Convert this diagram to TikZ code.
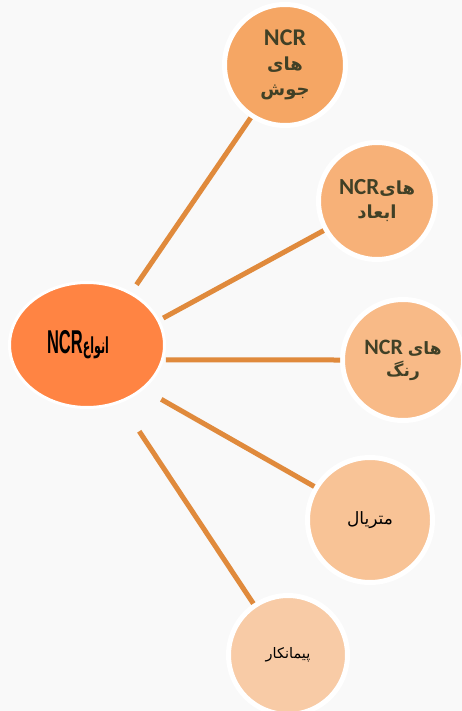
\documentclass[tikz,border=0pt]{standalone}
\usepackage{fontspec}
\setmainfont{Carlito}
\newfontfamily\arabicfont[Script=Arabic]{DejaVu Sans}
\newfontfamily\narrowfont{Liberation Sans}
\usetikzlibrary{shapes.geometric}
\TeXXeTstate=1
\definecolor{bgc}{RGB}{249,249,249}
\definecolor{cfill}{RGB}{255,132,67}
\definecolor{fa}{RGB}{245,166,100}
\definecolor{fb}{RGB}{247,177,120}
\definecolor{fc}{RGB}{248,186,135}
\definecolor{fd}{RGB}{248,195,150}
\definecolor{fe}{RGB}{248,203,166}
\definecolor{linec}{RGB}{224,138,60}
\definecolor{olive}{RGB}{64,64,38}
\begin{document}
\begin{tikzpicture}[x=1pt,y=-1pt,
  bub/.style={circle, draw=white, line width=5pt, inner sep=0pt, align=center},
  link/.style={draw=linec, line width=5pt},
  boldtxt/.style={text=olive},
]
\fill[bgc] (0,0) rectangle (462,711);
\useasboundingbox (0,0) rectangle (462,711);

\node[ellipse, fill=cfill, draw=white, line width=3pt, inner sep=0pt,
      minimum width=155pt, minimum height=125pt] (c) at (87,345)
  {\hspace*{-18pt}\scalebox{0.5}[1]{\bfseries\beginR{\arabicfont\fontsize{22}{22}\selectfont انواع}\beginL{\narrowfont\fontsize{33}{33}\selectfont NCR}\endL\endR}};

\node[bub, boldtxt, fill=fa, minimum size=121pt, font=\bfseries\fontsize{24}{25}\selectfont] (n1) at (285,65)
  {NCR\\
   {\arabicfont\fontsize{18}{25}\selectfont\beginR های\endR}\\
   {\arabicfont\fontsize{18}{25}\selectfont\beginR جوش\endR}};

\node[bub, boldtxt, fill=fb, minimum size=117pt, font=\bfseries\fontsize{23}{24}\selectfont] (n2) at (377,201)
  {\beginR{\arabicfont\fontsize{18}{24}\selectfont های}\beginL NCR\endL\endR\\
   {\arabicfont\fontsize{18}{24}\selectfont\beginR ابعاد\endR}};

\node[bub, boldtxt, fill=fc, minimum size=121pt, font=\bfseries\fontsize{22}{22}\selectfont] (n3) at (403,360)
  {\beginR{\arabicfont\fontsize{17}{22}\selectfont های} \beginL NCR\endL\endR\\
   {\arabicfont\fontsize{17}{22}\selectfont\beginR رنگ\endR}};

\node[bub, fill=fd, minimum size=125pt, font=\arabicfont\fontsize{17}{20}\selectfont] (n4) at (370,520)
  {\beginR متریال\endR};

\node[bub, fill=fe, minimum size=119pt, font=\arabicfont\fontsize{14.5}{17}\selectfont] (n5) at (288,655)
  {\beginR پیمانکار\endR};

\draw[link, shorten <=9pt] (c.50.2) -- (n1.237.6);
\draw[link, shorten <=4pt] (c.19.6) -- (n2.209.9);
\draw[link, shorten <=2pt] (c.-11) -- (n3.180);
\draw[link, shorten <=20pt] (c.-38) -- (n4.149.2);
\draw[link, shorten <=34pt] (c.-60.4) -- (n5.124.2);
\end{tikzpicture}
\end{document}
